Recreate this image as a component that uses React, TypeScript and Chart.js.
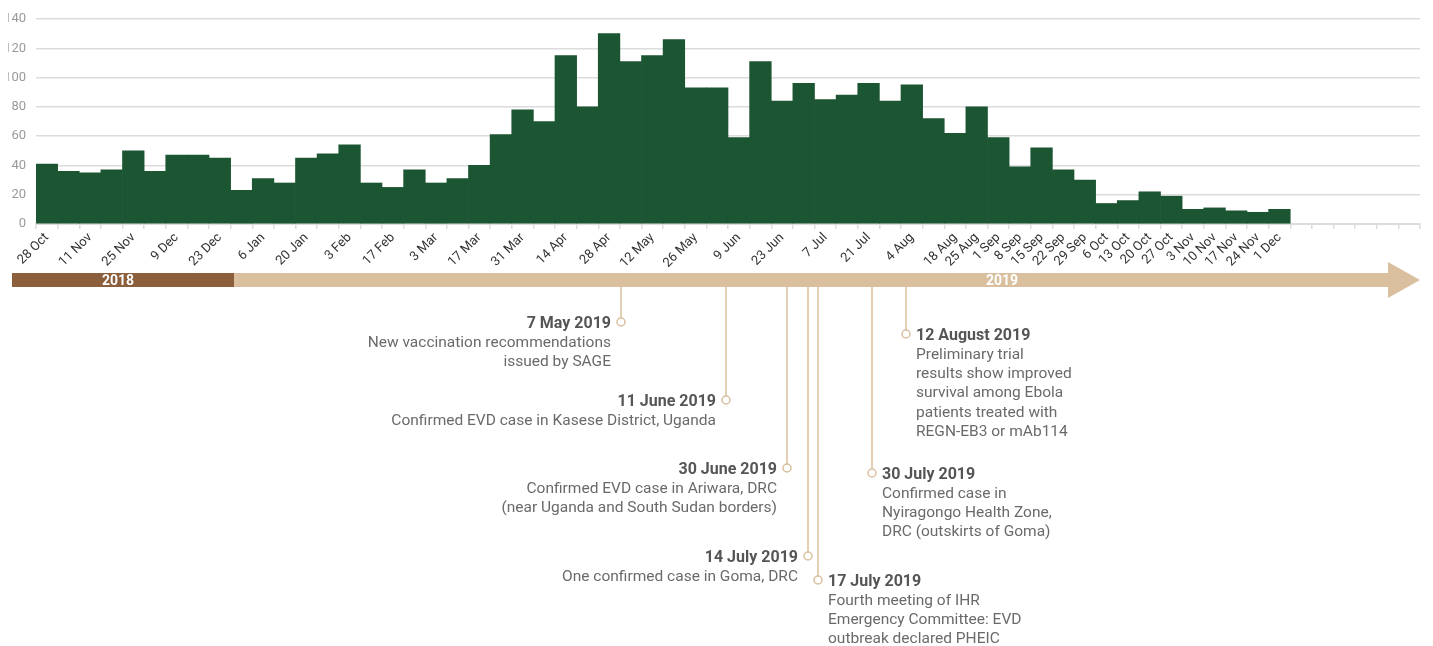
import { useEffect, useRef } from "react";
import { Chart, registerables } from "chart.js";

Chart.register(...registerables);

// ---- data ----
const weeks = [
  "28 Oct", "4 Nov", "11 Nov", "18 Nov", "25 Nov", "2 Dec", "9 Dec", "16 Dec", "23 Dec", "30 Dec",
  "6 Jan", "13 Jan", "20 Jan", "27 Jan", "3 Feb", "10 Feb", "17 Feb", "24 Feb", "3 Mar", "10 Mar",
  "17 Mar", "24 Mar", "31 Mar", "7 Apr", "14 Apr", "21 Apr", "28 Apr", "5 May", "12 May", "19 May",
  "26 May", "2 Jun", "9 Jun", "16 Jun", "23 Jun", "30 Jun", "7 Jul", "14 Jul", "21 Jul", "28 Jul",
  "4 Aug", "11 Aug", "18 Aug", "25 Aug", "1 Sep", "8 Sep", "15 Sep", "22 Sep", "29 Sep", "6 Oct",
  "13 Oct", "20 Oct", "27 Oct", "3 Nov", "10 Nov", "17 Nov", "24 Nov", "1 Dec", "8 Dec", "15 Dec",
  "22 Dec", "29 Dec", "5 Jan", "12 Jan",
];

const cases = [
  41, 36, 35, 37, 50, 36, 47, 47, 45, 23,
  31, 28, 45, 48, 54, 28, 25, 37, 28, 31,
  40, 61, 78, 70, 115, 80, 130, 111, 115, 126,
  93, 93, 59, 111, 84, 96, 85, 88, 96, 84,
  95, 72, 62, 80, 59, 39, 52, 37, 30, 14,
  16, 22, 19, 10, 11, 9, 8, 10,
];

const shownTickLabels = [
  "28 Oct", "11 Nov", "25 Nov", "9 Dec", "23 Dec", "6 Jan", "20 Jan", "3 Feb", "17 Feb", "3 Mar",
  "17 Mar", "31 Mar", "14 Apr", "28 Apr", "12 May", "26 May", "9 Jun", "23 Jun", "7 Jul", "21 Jul",
  "4 Aug", "18 Aug", "25 Aug", "1 Sep", "8 Sep", "15 Sep", "22 Sep", "29 Sep", "6 Oct", "13 Oct",
  "20 Oct", "27 Oct", "3 Nov", "10 Nov", "17 Nov", "24 Nov", "1 Dec",
];

const yTicks = [0, 20, 40, 60, 80, 100, 120, 140];

const years = ["2018", "2019"];

const eventDates = [
  "7 May 2019", "11 June 2019", "30 June 2019", "14 July 2019",
  "17 July 2019", "30 July 2019", "12 August 2019",
];

const eventTexts = [
  ["New vaccination recommendations", "issued by SAGE"],
  ["Confirmed EVD case in Kasese District, Uganda"],
  ["Confirmed EVD case in Ariwara, DRC", "(near Uganda and South Sudan borders)"],
  ["One confirmed case in Goma, DRC"],
  ["Fourth meeting of IHR", "Emergency Committee: EVD", "outbreak declared PHEIC"],
  ["Confirmed case in", "Nyiragongo Health Zone,", "DRC (outskirts of Goma)"],
  ["Preliminary trial", "results show improved", "survival among Ebola", "patients treated with", "REGN-EB3 or mAb114"],
];

// ---- layout (timeline illustration, container coordinates) ----
const W = 1417;
const H = 638;
const CHART_H = 260;
const TL_Y0 = 265; // timeline bar top
const TL_Y1 = 279; // timeline bar bottom
const TL_LEFT = 4;
const TL_SPLIT = 226;
const TL_SHAFT_END = 1380;
const TL_TIP = 1412;
const TL_HEAD_TOP = 254;
const TL_HEAD_BOT = 290;
const yearLabelX = [110, 994];

const eventLayout = [
  { x: 613, cy: 314, side: "left" },
  { x: 718, cy: 392, side: "left" },
  { x: 779, cy: 460, side: "left" },
  { x: 800, cy: 548, side: "left" },
  { x: 810, cy: 572, side: "right" },
  { x: 864, cy: 465, side: "right" },
  { x: 898, cy: 326, side: "right" },
];

const GREEN = "#1c5532";
const BROWN = "#8b5e3c";
const TAN = "#d9bf9e";
const TICK_FONT = "Roboto, 'Noto Sans', sans-serif";
const TEXT_FONT = "Roboto, 'Noto Sans', sans-serif";

function BarChart() {
  const ref = useRef<HTMLCanvasElement | null>(null);
  useEffect(() => {
    if (!ref.current) return;
    const chart = new Chart(ref.current, {
      type: "bar",
      data: {
        labels: weeks,
        datasets: [
          {
            data: cases,
            backgroundColor: GREEN,
            borderWidth: 0,
            categoryPercentage: 1,
            barPercentage: 1,
          },
        ],
      },
      options: {
        animation: false,
        responsive: true,
        maintainAspectRatio: false,
        layout: { padding: { top: 11, right: 13, left: 0, bottom: 0 } },
        plugins: { legend: { display: false }, tooltip: { enabled: false } },
        scales: {
          x: {
            offset: true,
            grid: {
              display: true,
              drawOnChartArea: false,
              drawTicks: true,
              tickLength: 5,
              color: "#dcdcdc",
              lineWidth: 1.5,
              offset: true,
            },
            border: { display: true, color: "#dcdcdc", width: 2 },
            ticks: {
              autoSkip: false,
              maxRotation: 45,
              minRotation: 45,
              padding: 1,
              color: "#333333",
              font: { family: TICK_FONT, size: 13 },
              callback: (_v: any, i: number) =>
                shownTickLabels.includes(weeks[i]) ? weeks[i] : "",
            },
            afterFit: (s: any) => {
              s.height = 44;
            },
          },
          y: {
            min: yTicks[0],
            max: yTicks[yTicks.length - 1],
            afterBuildTicks: (s: any) => {
              s.ticks = yTicks.map((v) => ({ value: v }));
            },
            grid: { color: "#dcdcdc", lineWidth: 1.5, drawTicks: false },
            border: { display: false },
            ticks: {
              padding: 10,
              color: "#9a9a9a",
              font: { family: TICK_FONT, size: 13 },
            },
            afterFit: (s: any) => {
              s.width = 36;
              s.paddingTop = 0;
              s.paddingBottom = 0;
            },
          },
        },
      },
    });
    return () => chart.destroy();
  }, []);
  return (
    <div style={{ position: "absolute", left: -8, top: 0, width: W + 16, height: CHART_H }}>
      <canvas ref={ref} />
    </div>
  );
}

function Timeline() {
  const midY = (TL_Y0 + TL_Y1) / 2;
  return (
    <svg
      width={W}
      height={H}
      style={{ position: "absolute", left: 0, top: 0, overflow: "visible" }}
    >
      <rect x={TL_LEFT} y={TL_Y0} width={TL_SPLIT - TL_LEFT} height={TL_Y1 - TL_Y0} fill={BROWN} />
      <rect x={TL_SPLIT} y={TL_Y0} width={TL_SHAFT_END - TL_SPLIT} height={TL_Y1 - TL_Y0} fill={TAN} />
      <polygon
        points={`${TL_SHAFT_END},${TL_HEAD_TOP} ${TL_TIP},${midY} ${TL_SHAFT_END},${TL_HEAD_BOT}`}
        fill={TAN}
      />
      {years.map((y, i) => (
        <text
          key={y}
          x={yearLabelX[i]}
          y={midY + 5}
          textAnchor="middle"
          fill="#ffffff"
          fontFamily={TICK_FONT}
          fontWeight="bold"
          fontSize={14}
        >
          {y}
        </text>
      ))}
      {eventDates.map((d, i) => {
        const L = eventLayout[i];
        const anchor = L.side === "left" ? "end" : "start";
        const tx = L.side === "left" ? L.x - 10 : L.x + 10;
        return (
          <g key={d}>
            <line x1={L.x} y1={TL_Y1} x2={L.x} y2={L.cy - 4} stroke={TAN} strokeWidth={1.5} />
            <circle cx={L.x} cy={L.cy} r={4} fill="#fff" stroke={TAN} strokeWidth={1.5} />
            <text
              x={tx}
              y={L.cy + 5.5}
              textAnchor={anchor}
              fill="#555555"
              fontFamily={TEXT_FONT}
              fontWeight="bold"
              fontSize={16}
            >
              {d}
            </text>
            {eventTexts[i].map((t, j) => (
              <text
                key={j}
                x={tx}
                y={L.cy + 5.5 + 19.3 * (j + 1)}
                textAnchor={anchor}
                fill="#6a6a6a"
                fontFamily={TEXT_FONT}
                fontSize={15.5}
              >
                {t}
              </text>
            ))}
          </g>
        );
      })}
    </svg>
  );
}

export default function App() {
  return (
    <div style={{ position: "relative", width: W, height: H }}>
      <BarChart />
      <Timeline />
    </div>
  );
}
